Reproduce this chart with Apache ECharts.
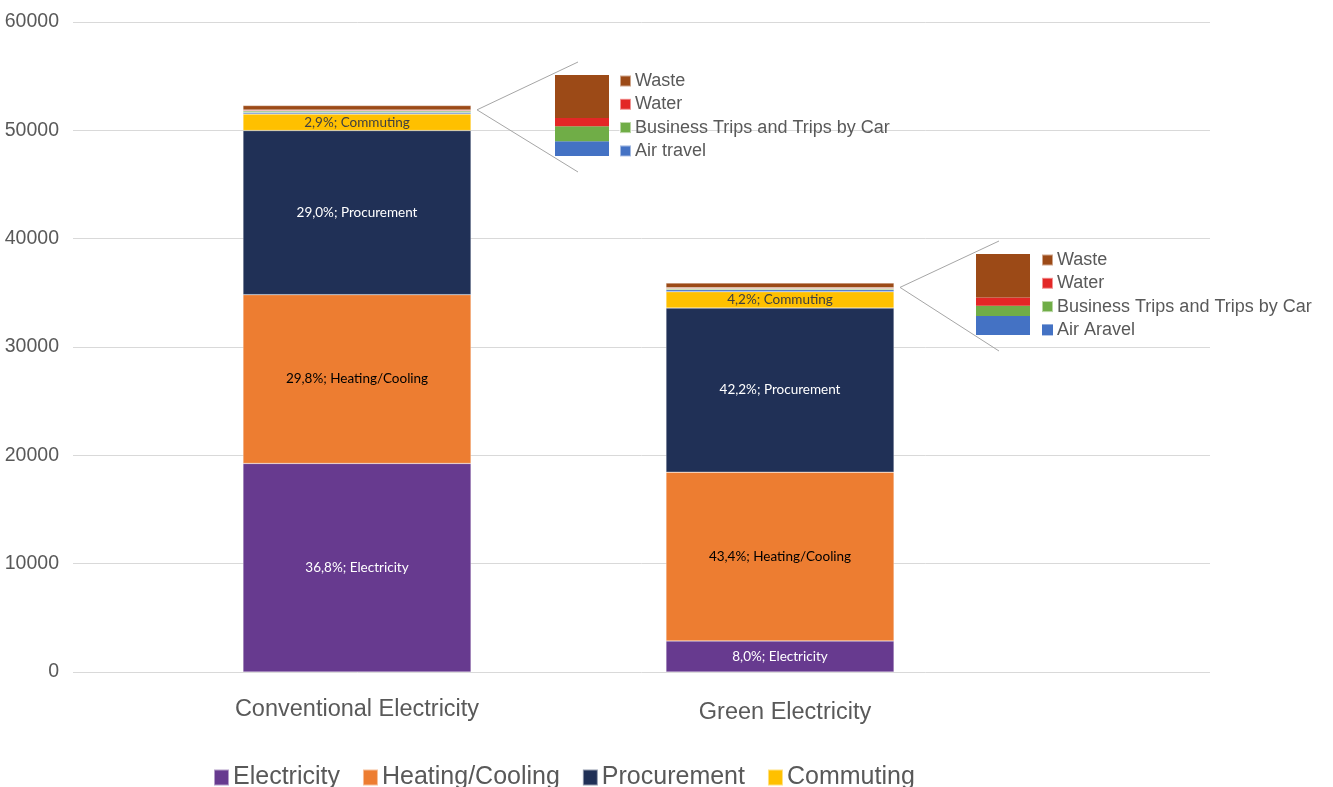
<!DOCTYPE html>
<html>
<head>
<meta charset="utf-8">
<script src="https://cdn.jsdelivr.net/npm/echarts@6/dist/echarts.min.js"></script>
<style>
html,body{margin:0;padding:0;background:#fff;}
#chart{width:1333px;height:787px;}
</style>
</head>
<body>
<div id="chart"></div>
<script>
const categories = ['Conventional Electricity', 'Green Electricity'];
const electricity = [19250, 2870];
const heatingCooling = [15580, 15580];
const procurement = [15150, 15150];
const commuting = [1517, 1507];
const airTravel = [145, 185];
const businessTrips = [145, 100];
const water = [80, 80];
const waste = [420, 425];
const yMin = 0, yMax = 60000, yInterval = 10000;
const insetNames1 = ['Waste', 'Water', 'Business Trips and Trips by Car', 'Air travel'];
const insetNames2 = ['Waste', 'Water', 'Business Trips and Trips by Car', 'Air Aravel'];
const mainLegendNames = ['Electricity', 'Heating/Cooling', 'Procurement', 'Commuting'];

const C = {
  elec: '#673a8f', heat: '#ed7d31', proc: '#203056', comm: '#ffc000',
  air: '#4472c4', biz: '#70ad47', water: '#e32726', waste: '#9c4a17'
};
const FONT = 'Liberation Sans, Arial, sans-serif';
const LABEL_FONT = 'Lato, sans-serif';

const totals = categories.map((_, i) =>
  electricity[i] + heatingCooling[i] + procurement[i] + commuting[i] +
  airTravel[i] + businessTrips[i] + water[i] + waste[i]);
const smallTotals = categories.map((_, i) => airTravel[i] + businessTrips[i] + water[i] + waste[i]);
const pct = (v, t) => (v / t * 100).toFixed(1).replace('.', ',') + '%';

function mainSeries(name, data, color, labelColor) {
  const s = {
    name: name, type: 'bar', stack: 'main', xAxisIndex: 1, yAxisIndex: 1,
    data: data, barWidth: 228, itemStyle: { color: color, borderColor: 'rgba(255,255,255,0.5)', borderWidth: 0.5 },
    emphasis: { disabled: true }
  };
  if (labelColor) {
    s.label = {
      show: true, position: 'inside', color: labelColor, fontSize: 13.5, fontFamily: LABEL_FONT,
      formatter: p => pct(p.value, totals[p.dataIndex]) + '; ' + name
    };
  }
  return s;
}
function insetSeries(name, value, color, idx) {
  return {
    name: name, type: 'bar', stack: 'inset' + idx, xAxisIndex: idx, yAxisIndex: idx,
    data: [value], barWidth: '100%', itemStyle: { color: color }, emphasis: { disabled: true }
  };
}

const BAR_W = 228;
const insetGrids = [
  { left: 555, top: 75, width: 54, height: 81 },
  { left: 976, top: 254, width: 54, height: 81 }
];
const insetLegendText = { fontSize: 18, lineHeight: 18, color: '#595959', fontFamily: FONT, padding: [0, 0, 0, -1] };
const catLabelPads = [[1, 0, 0, 0], [4, 0, 0, 10]];

const chart = echarts.init(document.getElementById('chart'));
const option = {
  animation: false,
  backgroundColor: '#fff',
  grid: [
    { left: 73, right: 123, top: 22, bottom: 115 },
    { left: 145.5, width: 846, top: 22, bottom: 115 },
    insetGrids[0],
    insetGrids[1]
  ],
  xAxis: [
    { gridIndex: 0, type: 'category', data: categories, show: false },
    { gridIndex: 1, type: 'category',
      data: categories.map((c, i) => ({ value: c, textStyle: { padding: catLabelPads[i] } })),
      axisLine: { show: false }, axisTick: { show: false },
      axisLabel: { fontSize: 23.5, color: '#595959', fontFamily: FONT, margin: 25 } },
    { gridIndex: 2, type: 'category', data: [''], show: false },
    { gridIndex: 3, type: 'category', data: [''], show: false }
  ],
  yAxis: [
    { gridIndex: 0, type: 'value', min: yMin, max: yMax, interval: yInterval,
      axisLine: { show: false }, axisTick: { show: false },
      axisLabel: { fontSize: 19.5, color: '#595959', fontFamily: FONT, margin: 14, formatter: v => String(v) },
      splitLine: { lineStyle: { color: '#d9d9d9', width: 1 } } },
    { gridIndex: 1, type: 'value', min: yMin, max: yMax, interval: yInterval, show: false, splitLine: { show: false } },
    { gridIndex: 2, type: 'value', min: 0, max: smallTotals[0], show: false, splitLine: { show: false } },
    { gridIndex: 3, type: 'value', min: 0, max: smallTotals[1], show: false, splitLine: { show: false } }
  ],
  legend: [
    { data: mainLegendNames, left: 208, top: 760, orient: 'horizontal',
      itemWidth: 15, itemHeight: 16, itemGap: 22, icon: 'rect',
      textStyle: { fontSize: 25, color: '#595959', fontFamily: FONT, padding: [0, 0, 0, -1] },
      selectedMode: false },
    { data: insetNames1, left: 614, top: 67, orient: 'vertical',
      itemWidth: 11, itemHeight: 11, itemGap: 5.3, icon: 'rect',
      textStyle: insetLegendText, selectedMode: false },
    { data: insetNames2, left: 1036, top: 246, orient: 'vertical',
      itemWidth: 11, itemHeight: 11, itemGap: 5.3, icon: 'rect',
      textStyle: insetLegendText, selectedMode: false }
  ],
  series: [
    mainSeries('Electricity', electricity, C.elec, '#ffffff'),
    mainSeries('Heating/Cooling', heatingCooling, C.heat, '#000000'),
    mainSeries('Procurement', procurement, C.proc, '#ffffff'),
    mainSeries('Commuting', commuting, C.comm, '#404040'),
    mainSeries('Air travel', airTravel, C.air),
    mainSeries('Business Trips and Trips by Car', businessTrips, C.biz),
    mainSeries('Water', water, C.water),
    mainSeries('Waste', waste, C.waste),
    insetSeries('Air travel', airTravel[0], C.air, 2),
    insetSeries('Business Trips and Trips by Car', businessTrips[0], C.biz, 2),
    insetSeries('Water', water[0], C.water, 2),
    insetSeries('Waste', waste[0], C.waste, 2),
    insetSeries('Air Aravel', airTravel[1], C.air, 3),
    insetSeries('Business Trips and Trips by Car', businessTrips[1], C.biz, 3),
    insetSeries('Water', water[1], C.water, 3),
    insetSeries('Waste', waste[1], C.waste, 3)
  ]
};
chart.setOption(option);

const graphics = categories.map((_, i) => {
  const base = electricity[i] + heatingCooling[i] + procurement[i] + commuting[i];
  const mid = base + smallTotals[i] / 2;
  const pt = chart.convertToPixel({ xAxisIndex: 1, yAxisIndex: 1 }, [i, mid]);
  const apex = [pt[0] + BAR_W / 2 + 6, pt[1]];
  const g = insetGrids[i];
  return {
    type: 'polyline', silent: true,
    shape: { points: [[g.left + 23, g.top - 13], apex, [g.left + 23, g.top + g.height + 16]] },
    style: { stroke: '#a6a6a6', lineWidth: 1, fill: null }
  };
});
chart.setOption({ graphic: graphics });
</script>
</body>
</html>
